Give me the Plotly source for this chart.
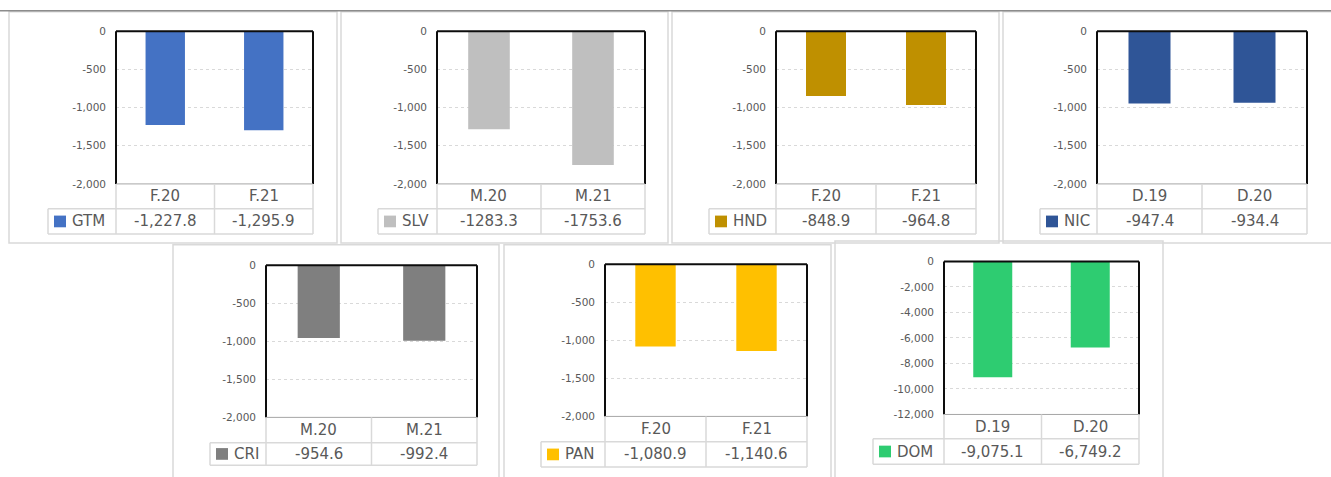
import plotly.graph_objects as go

W, H = 1331, 477

# ---- data -------------------------------------------------------------
country_codes = ["GTM", "SLV", "HND", "NIC", "CRI", "PAN", "DOM"]

gtm_periods = ["F.20", "F.21"]
gtm_values = [-1227.8, -1295.9]

slv_periods = ["M.20", "M.21"]
slv_values = [-1283.3, -1753.6]

hnd_periods = ["F.20", "F.21"]
hnd_values = [-848.9, -964.8]

nic_periods = ["D.19", "D.20"]
nic_values = [-947.4, -934.4]

cri_periods = ["M.20", "M.21"]
cri_values = [-954.6, -992.4]

pan_periods = ["F.20", "F.21"]
pan_values = [-1080.9, -1140.6]

dom_periods = ["D.19", "D.20"]
dom_values = [-9075.1, -6749.2]

# y-axis ticks (min, max, step)
small_axis = (-2000, 0, 500)
dom_axis = (-12000, 0, 2000)

series_colors = ["#4472C4", "#BFBFBF", "#BF9000", "#2F5597",
                 "#7F7F7F", "#FFC000", "#2ECC71"]

# SLV table prints values without thousands separator
use_thousands = [True, False, True, True, True, True, True]

# ---- layout of the seven small panels (pixels) -------------------------
# legend_left, plot_left, plot_right, plot_top, plot_bottom,
# category-row bottom, value-row bottom, frame (x0, y0, x1, y1)
panels_px = [
    (48, 116, 313, 26, 182.5, 208, 234, (9, 6, 337, 243)),
    (378, 437, 645, 26, 182.5, 208, 234, (341, 6, 668, 243)),
    (709, 776, 976, 26, 182.5, 208, 234, (672, 6, 999, 243)),
    (1040, 1097, 1307, 26, 182.5, 208, 234, (1003, 6, 1332, 243)),
    (210, 266, 477, 266, 422, 448, 471, (173, 245, 499, 520)),
    (541, 605, 807, 265, 421, 447, 473, (504, 245, 831, 520)),
    (873, 944, 1139, 262, 419, 444, 470, (835, 241, 1163, 520)),
]

periods = [gtm_periods, slv_periods, hnd_periods, nic_periods,
           cri_periods, pan_periods, dom_periods]
values = [gtm_values, slv_values, hnd_values, nic_values,
          cri_values, pan_values, dom_values]
axes = [small_axis] * 6 + [dom_axis]


def px_x(x):
    return x / W


def px_y(y):
    return 1 - y / H


TEXT = "#595959"
GRID = "#D9D9D9"
CELL = "#D9D9D9"
FONT = "DejaVu Sans"

fig = go.Figure()
shapes = []
annotations = []

# outer frames
for i, p in enumerate(panels_px):
    fx0, fy0, fx1, fy1 = p[7]
    shapes.append(dict(type="rect", xref="paper", yref="paper",
                       x0=px_x(fx0), x1=px_x(fx1), y0=px_y(fy1), y1=px_y(fy0),
                       line=dict(color="#D9D9D9", width=1.5), layer="below"))
# darker top rule over the first row
shapes.append(dict(type="line", xref="paper", yref="paper",
                   x0=0, x1=1, y0=px_y(5), y1=px_y(5),
                   line=dict(color="#8C8C8C", width=1.5)))

for i, p in enumerate(panels_px):
    ll, pl, pr, pt, pb, cb, vb, _ = p
    n = i + 1
    xa = "x" if n == 1 else f"x{n}"
    ya = "y" if n == 1 else f"y{n}"
    lo, hi, step = axes[i]
    tickvals = list(range(lo, hi + 1, step))
    ticktext = [f"{v:,}" for v in tickvals]

    fig.add_trace(go.Bar(
        x=periods[i], y=values[i], width=0.4,
        marker=dict(color=series_colors[i], line=dict(width=0)),
        xaxis=xa, yaxis=ya, showlegend=False, hoverinfo="x+y",
    ))

    xkey = "xaxis" if n == 1 else f"xaxis{n}"
    ykey = "yaxis" if n == 1 else f"yaxis{n}"
    fig.layout[xkey] = dict(
        domain=[px_x(pl), px_x(pr)], anchor=ya, type="category",
        range=[-0.5, 1.5], showticklabels=False, showgrid=False,
        showline=False, zeroline=False, fixedrange=True,
    )
    fig.layout[ykey] = dict(
        domain=[px_y(pb), px_y(pt)], anchor=xa, range=[lo, hi],
        tickvals=tickvals, ticktext=ticktext, showgrid=True,
        gridcolor=GRID, griddash="dot", gridwidth=1, zeroline=False,
        showline=False, ticks="", ticklabelstandoff=9,
        tickfont=dict(family=FONT, size=10.5, color=TEXT), fixedrange=True,
    )

    X = lambda v: px_x(v)
    Y = lambda v: px_y(v)
    pm = (pl + pr) / 2

    # plot-area border: dark top/left/right, grey base
    for (x0, y0, x1, y1, col, w) in [
        (pl, pt, pr, pt, "#0D0D0D", 2),
        (pl, pt, pl, pb, "#0D0D0D", 2),
        (pr, pt, pr, pb, "#0D0D0D", 2),
        (pl, pb, pr, pb, "#A6A6A6", 1),
    ]:
        shapes.append(dict(type="line", xref="paper", yref="paper",
                           x0=X(x0), x1=X(x1), y0=Y(y0), y1=Y(y1),
                           line=dict(color=col, width=w), layer="above"))

    # data table grid
    for (x0, y0, x1, y1) in [
        (pl, pb, pl, vb), (pm, pb, pm, vb), (pr, pb, pr, vb),
        (ll, cb, pr, cb), (ll, vb, pr, vb), (ll, cb, ll, vb),
    ]:
        shapes.append(dict(type="line", xref="paper", yref="paper",
                           x0=X(x0), x1=X(x1), y0=Y(y0), y1=Y(y1),
                           line=dict(color=CELL, width=1.5)))

    # legend key
    ky = (cb + vb) / 2
    shapes.append(dict(type="rect", xref="paper", yref="paper",
                       x0=X(ll + 6), x1=X(ll + 18), y0=Y(ky + 6), y1=Y(ky - 6),
                       fillcolor=series_colors[i], line=dict(width=0)))
    annotations.append(dict(xref="paper", yref="paper", x=X(ll + 22), y=Y(ky),
                            xanchor="left", yanchor="middle", showarrow=False,
                            text=country_codes[i],
                            font=dict(family=FONT, size=15, color=TEXT)))

    # category row and value row
    fmt = "{:,.1f}" if use_thousands[i] else "{:.1f}"
    centers = [(pl + pm) / 2, (pm + pr) / 2]
    for c, cat, val in zip(centers, periods[i], values[i]):
        annotations.append(dict(xref="paper", yref="paper", x=X(c),
                                y=Y((pb + cb) / 2), xanchor="center",
                                yanchor="middle", showarrow=False, text=cat,
                                font=dict(family=FONT, size=15, color=TEXT)))
        annotations.append(dict(xref="paper", yref="paper", x=X(c),
                                y=Y(ky), xanchor="center",
                                yanchor="middle", showarrow=False,
                                text=fmt.format(val),
                                font=dict(family=FONT, size=15, color=TEXT)))

fig.update_layout(
    width=W, height=H, margin=dict(l=0, r=0, t=0, b=0),
    paper_bgcolor="white", plot_bgcolor="white",
    shapes=shapes, annotations=annotations, showlegend=False,
    font=dict(family=FONT, color=TEXT),
)

fig.write_html(
    "out.html",
    config={"displayModeBar": False},
    post_script="document.body.style.margin='0';document.body.style.overflow='hidden';",
)
